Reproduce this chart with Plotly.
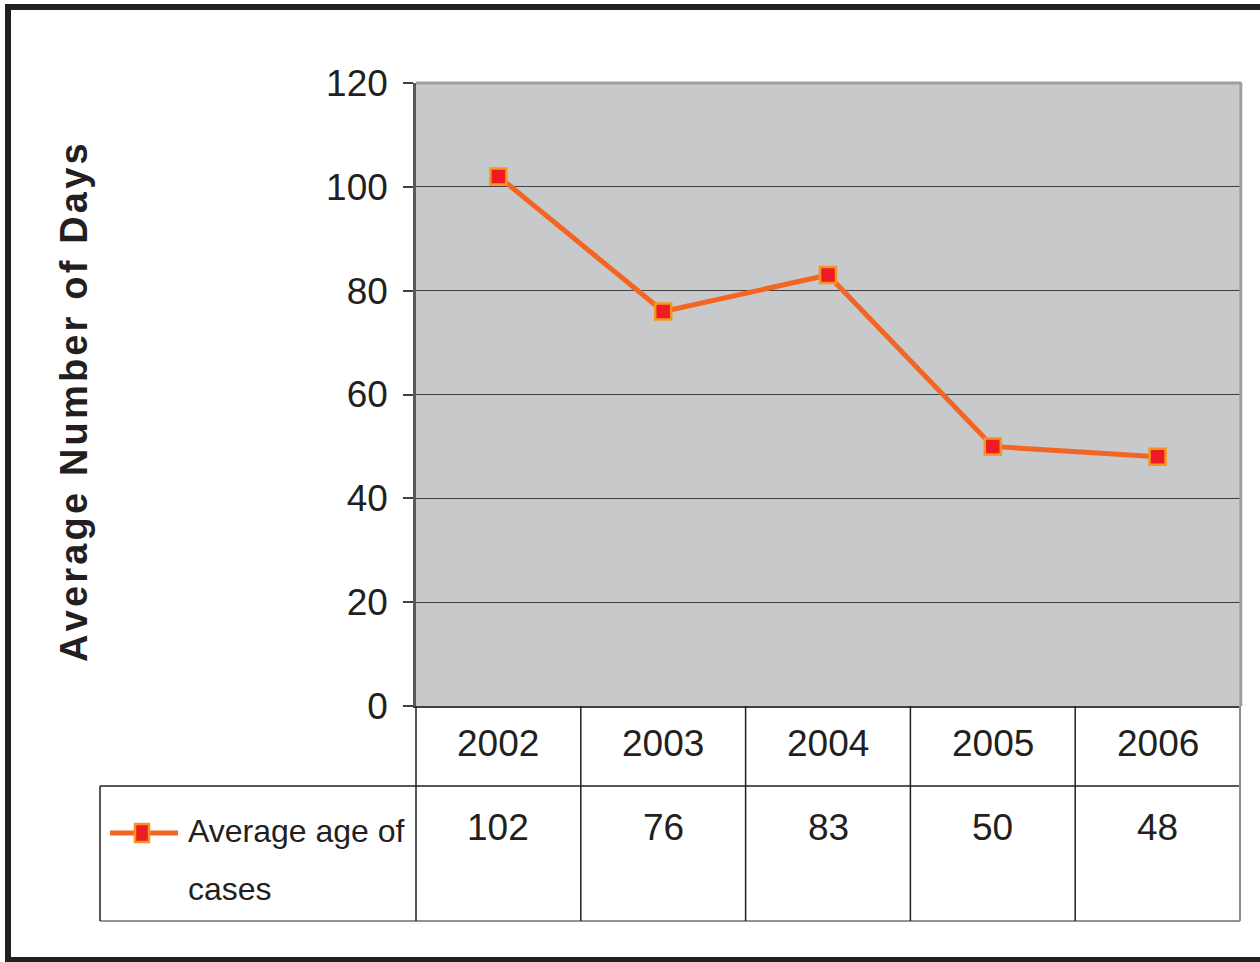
import plotly.graph_objects as go

# Data
years = ["2002", "2003", "2004", "2005", "2006"]
avg_age = [102, 76, 83, 50, 48]
series_name = "Average age of cases"
y_title = "Average Number of Days"
y_ticks = [0, 20, 40, 60, 80, 100, 120]

W, H = 1260, 962
L, R, T, B = 416, 20, 83, 256
PW, PH = W - L - R, H - T - B

FONT = "Liberation Sans, Arial, sans-serif"
INK = "#231f20"
LINE = "#f26522"
MFILL = "#ed1c24"
MEDGE = "#f7941d"
FS = 37


def px(p):
    """pixel x -> paper x"""
    return (p - L) / PW


def py(p):
    """pixel y -> paper y"""
    return (H - B - p) / PH


fig = go.Figure()
fig.add_trace(go.Scatter(
    x=years, y=avg_age, mode="lines+markers", name=series_name,
    line=dict(color=LINE, width=5),
    marker=dict(symbol="square", size=16, color=MFILL,
                line=dict(color=MEDGE, width=2.5)),
    showlegend=False, cliponaxis=False,
))

annotations = []
shapes = []

# data table: header row with years, value row (x given as category index)
for i, (yr, v) in enumerate(zip(years, avg_age)):
    annotations.append(dict(x=i, xref="x", y=py(743), yref="paper", text=yr,
                            xanchor="center", yanchor="middle", showarrow=False,
                            font=dict(family=FONT, size=FS, color=INK)))
    annotations.append(dict(x=i, xref="x", y=py(827), yref="paper", text=str(v),
                            xanchor="center", yanchor="middle", showarrow=False,
                            font=dict(family=FONT, size=FS, color=INK)))

# series label in the table
words = series_name.split(" ")
annotations.append(dict(x=px(186), xref="paper", y=py(831), yref="paper",
                        text=" ".join(words[:3]), xanchor="left", yanchor="middle",
                        showarrow=False, font=dict(family=FONT, size=32, color=INK)))
annotations.append(dict(x=px(186), xref="paper", y=py(889), yref="paper",
                        text=" ".join(words[3:]), xanchor="left", yanchor="middle",
                        showarrow=False, font=dict(family=FONT, size=32, color=INK)))

# rotated axis title with wide tracking
spaced = "\u200a".join(list(y_title))
annotations.append(dict(x=px(74), xref="paper", y=py(403), yref="paper",
                        xanchor="center", yanchor="middle",
                        text=spaced, textangle=-90, showarrow=False,
                        font=dict(family=FONT, size=38, color=INK, weight="bold")))

# legend key inside the table
shapes.append(dict(type="line", xref="paper", yref="paper",
                   x0=px(110), x1=px(178), y0=py(833), y1=py(833),
                   line=dict(color=LINE, width=5)))
shapes.append(dict(type="rect", xref="paper", yref="paper",
                   x0=px(135), x1=px(149), y0=py(824), y1=py(842),
                   fillcolor=MFILL, line=dict(color=MEDGE, width=2.5)))

# table grid
tbl = dict(color=INK, width=1.5)
shapes.append(dict(type="line", xref="paper", yref="paper",
                   x0=px(100), x1=1, y0=py(786), y1=py(786), line=tbl))
shapes.append(dict(type="line", xref="paper", yref="paper",
                   x0=px(100), x1=1, y0=py(921), y1=py(921),
                   line=dict(color="#6d6e71", width=1.5)))
shapes.append(dict(type="line", xref="paper", yref="paper",
                   x0=px(100), x1=px(100), y0=py(786), y1=py(921), line=tbl))
n = len(years)
for i in range(n):
    shapes.append(dict(type="line", xref="x domain", yref="paper",
                       x0=i / n, x1=i / n, y0=0, y1=py(921), line=tbl))
shapes.append(dict(type="line", xref="x domain", yref="paper",
                   x0=1, x1=1, y0=py(706), y1=py(921),
                   line=dict(color="#8a8c8e", width=2)))

# plot area frame (top and right)
shapes.append(dict(type="line", xref="paper", yref="paper",
                   x0=0, x1=1.002, y0=1, y1=1, line=dict(color="#9d9fa2", width=3)))
shapes.append(dict(type="line", xref="paper", yref="paper",
                   x0=1.001, x1=1.001, y0=0, y1=1, line=dict(color="#9d9fa2", width=3)))

# outer page frame
frame = dict(color=INK, width=6)
shapes.append(dict(type="line", xref="paper", yref="paper",
                   x0=px(5), x1=px(1262), y0=py(7), y1=py(7), line=frame))
shapes.append(dict(type="line", xref="paper", yref="paper",
                   x0=px(8), x1=px(8), y0=py(4), y1=py(962), line=frame))
shapes.append(dict(type="line", xref="paper", yref="paper",
                   x0=px(5), x1=px(1262), y0=py(960), y1=py(960), line=frame))

fig.update_layout(
    width=W, height=H,
    margin=dict(l=L, r=R, t=T, b=B, pad=0),
    paper_bgcolor="white",
    plot_bgcolor="#c8c9cb",
    showlegend=False,
    annotations=annotations,
    shapes=shapes,
    font=dict(family=FONT, color=INK),
)
fig.update_xaxes(
    type="category", range=[-0.5, n - 0.5],
    showticklabels=False, ticks="", showgrid=False, zeroline=False,
    showline=True, linecolor="#414042", linewidth=2,
)
fig.update_yaxes(
    range=[0, 120], tickvals=y_ticks, ticktext=[str(t) for t in y_ticks],
    showgrid=True, gridcolor="#414042", gridwidth=1,
    showline=True, linecolor="#58595b", linewidth=2.5,
    ticks="outside", ticklen=10, tickcolor="#414042", tickwidth=1.5,
    tickfont=dict(family=FONT, size=FS, color=INK),
    ticklabelstandoff=8, zeroline=False,
)

fig.write_html("out.html")
